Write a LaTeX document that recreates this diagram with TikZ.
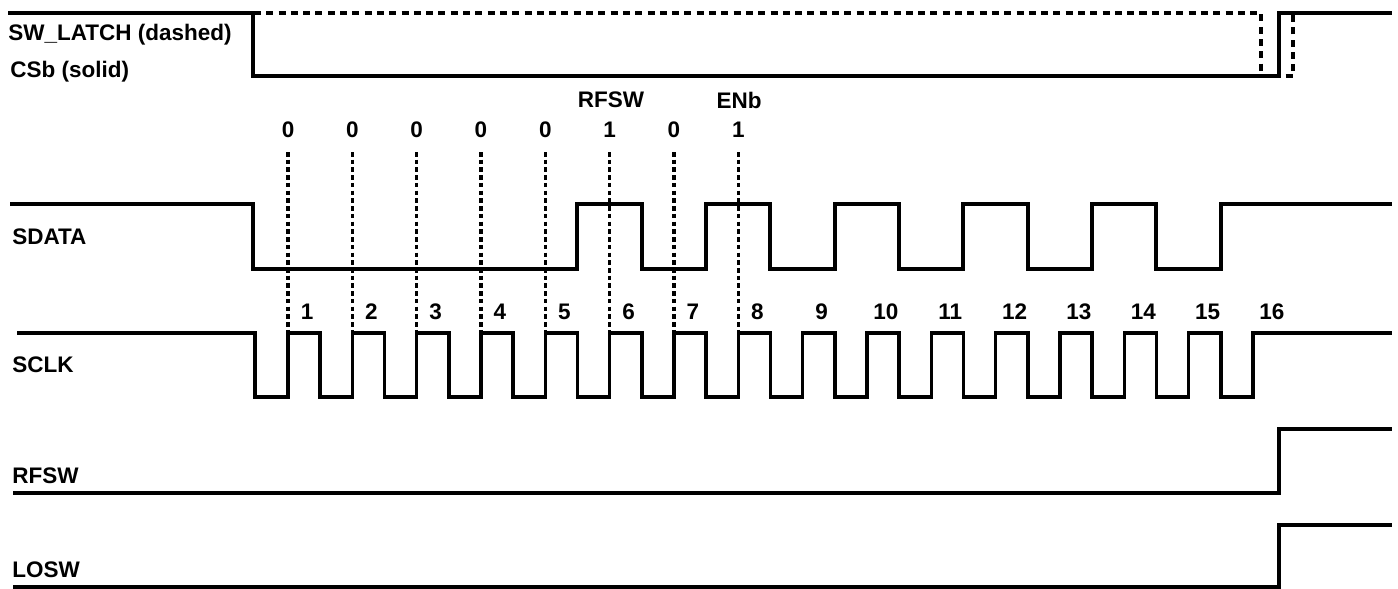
\documentclass[tikz,border=0pt]{standalone}
\usepackage{fontspec}
\setmainfont{Liberation Sans}
\usepackage{tikz}
\usetikzlibrary{positioning, calc}
\tikzset{sig/.style={line width=2pt},
         latch/.style={line width=2.4pt,dash pattern=on 4pt off 3pt},
         guide/.style={line width=1.9pt,dash pattern=on 2.6pt off 1.8pt},
         siglabel/.style={font=\fontsize{12.8}{15}\selectfont\bfseries,anchor=west,inner sep=0pt},
         bitlabel/.style={font=\fontsize{12.8}{15}\selectfont\bfseries,inner sep=0pt}}

\begin{document}
\begin{tikzpicture}[x=0.02cm,y=-0.02cm]
    \useasboundingbox (0,0) rectangle (1398,588);
    % Signal names
    \node (latchname) at (8,35) [siglabel]{SW\_LATCH (dashed)};
    \node (csbname) at (10,72) [siglabel]{CSb (solid)};
    \node (sdataname) at (12,237) [siglabel]{SDATA};
    \node (sclkname) at (12,365) [siglabel]{SCLK};
    \node (rfswname) at (12,476) [siglabel]{RFSW};
    \node (loswname) at (12,570) [siglabel]{LOSW};
    % CSb and SW_LATCH
    \draw[sig] (8,13) -| (253,76) -| (1279,13) -- (1392,13);
    \draw[latch] (8,13) -| (1261,76) -| (1293,13) -- (1392,13);
    % Data bits and guides
    \foreach \b [count=\k] in {0,0,0,0,0,1,0,1} {
      \node (bit\k) at ({288+(\k-1)*64.33},130) [bitlabel]{\b};
      \draw[guide] ({288+(\k-1)*64.33},152) -- ({288+(\k-1)*64.33},333);
    }
    \node (rfswbit) at (611,100) [bitlabel]{RFSW};
    \node (enbbit) at (739,100) [bitlabel]{ENb};
    % SDATA
    \draw[sig] (10,204) -| (253,269) -| (577,204) -| (642,269) -| (706,204)
      -| (770,269) -| (835,204) -| (899,269) -| (963,204) -| (1028,269)
      -| (1092,204) -| (1156,269) -| (1221,204) -- (1392,204);
    % SCLK
    \draw[sig] (17,333) -| (255,397)
      foreach \k in {1,...,15} {
        -- ({288+(\k-1)*64.33},397) -- ({288+(\k-1)*64.33},333)
        -- ({320.2+(\k-1)*64.33},333) -- ({320.2+(\k-1)*64.33},397)
      } -| (1253,333) -- (1392,333);
    \foreach \k in {1,...,16}
      \node (clk\k) at ({307+(\k-1)*64.33},312) [bitlabel]{\k};
    % RFSW and LOSW
    \draw[sig] (13,493) -| (1279,429) -- (1392,429);
    \draw[sig] (13,587) -| (1279,525) -- (1392,525);
  \end{tikzpicture}
\end{document}
